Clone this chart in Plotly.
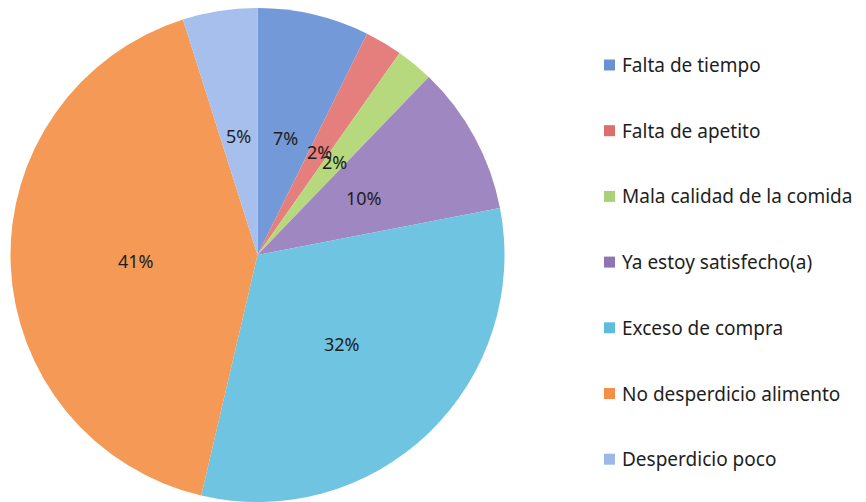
import math
import plotly.graph_objects as go

labels = ["Falta de tiempo", "Falta de apetito", "Mala calidad de la comida",
          "Ya estoy satisfecho(a)", "Exceso de compra", "No desperdicio alimento",
          "Desperdicio poco"]
values = [3, 1, 1, 4, 13, 17, 2]
slice_colors = ["#7399d8", "#e57f7d", "#b6d97e", "#9f87c2", "#6fc4e2", "#f49a56", "#a6bfec"]
swatch_colors = ["#6a92d2", "#dc6e6c", "#aad175", "#8f74b4", "#5fbcdc", "#f48e48", "#9db8e8"]

W, H = 866, 502
R = 248
CX, CY = 257.5, 256  # pixel centre (from top-left)
FONT = "Noto Sans"

fig = go.Figure(go.Pie(
    labels=labels, values=values, sort=False, direction="clockwise", rotation=0,
    marker=dict(colors=slice_colors, line=dict(width=0)),
    textinfo="none", hoverinfo="label+percent", showlegend=False,
    domain=dict(x=[(CX - R) / W, (CX + R) / W], y=[max(0, (H - CY - R) / H), (H - CY + R) / H]),
))

total = sum(values)
cum = 0
annotations = []
for v in values:
    mid = (cum + v / 2) / total * 2 * math.pi
    cum += v
    rr = 0.49 * R
    px = CX + rr * math.sin(mid)
    py = CY - rr * math.cos(mid)
    annotations.append(dict(
        x=px / W, y=1 - py / H, xref="paper", yref="paper", showarrow=False,
        text=f"{round(v / total * 100)}%", font=dict(family=FONT, size=18, color="#1e1e1e"),
        xanchor="center", yanchor="middle"))

shapes = []
y0, step = 65, 65.7
for i, (lab, col) in enumerate(zip(labels, swatch_colors)):
    yc = y0 + i * step
    shapes.append(dict(type="rect", xref="paper", yref="paper",
                       x0=604 / W, x1=615 / W, y0=1 - (yc + 5.5) / H, y1=1 - (yc - 5.5) / H,
                       fillcolor=col, line=dict(width=0)))
    annotations.append(dict(
        x=620 / W, y=1 - yc / H, xref="paper", yref="paper", showarrow=False,
        text=lab, font=dict(family=FONT, size=19, color="#1e1e1e"),
        xanchor="left", yanchor="middle"))

fig.update_layout(
    width=W, height=H, margin=dict(l=0, r=0, t=0, b=0),
    paper_bgcolor="white", plot_bgcolor="white",
    annotations=annotations, shapes=shapes,
)

fig.write_html("out.html", config={"displayModeBar": False},
               post_script="document.body.style.margin='0';")
